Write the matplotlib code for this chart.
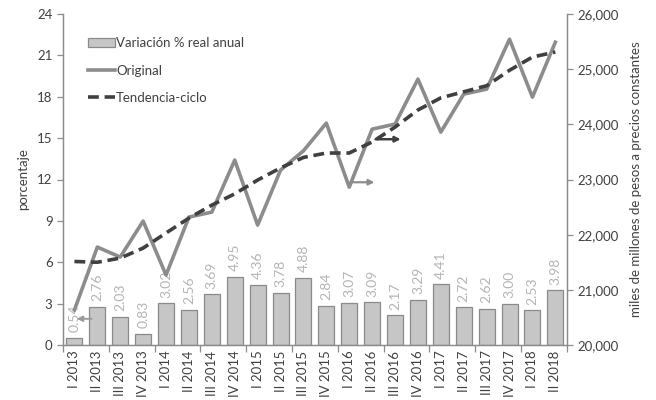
import matplotlib
matplotlib.use("Agg")
import matplotlib.pyplot as plt
import numpy as np

plt.rcParams['font.family'] = ['Lato', 'DejaVu Sans']

quarters = ["I 2013", "II 2013", "III 2013", "IV 2013",
            "I 2014", "II 2014", "III 2014", "IV 2014",
            "I 2015", "II 2015", "III 2015", "IV 2015",
            "I 2016", "II 2016", "III 2016", "IV 2016",
            "I 2017", "II 2017", "III 2017", "IV 2017",
            "I 2018", "II 2018"]
variacion = [0.54, 2.76, 2.03, 0.83, 3.02, 2.56, 3.69, 4.95, 4.36, 3.78, 4.88,
             2.84, 3.07, 3.09, 2.17, 3.29, 4.41, 2.72, 2.62, 3.00, 2.53, 3.98]
original = [20634, 21775, 21594, 22246, 21268, 22319, 22409, 23352, 22174, 23170,
            23520, 24022, 22862, 23913, 24004, 24819, 23859, 24548, 24638, 25543,
            24493, 25489]
tendencia = [21514, 21500, 21575, 21757, 22030, 22300, 22536, 22740, 22990, 23210,
             23400, 23480, 23480, 23680, 23950, 24260, 24480, 24590, 24700, 24980,
             25220, 25310]

x = np.arange(len(quarters))

fig = plt.figure(figsize=(6.56, 4.0), dpi=100)
ax = fig.add_axes([0.096, 0.1375, 0.768, 0.8275])
ax2 = ax.twinx()

txt = '#404040'
spine_c = '#8c8c8c'

bars = ax.bar(x, variacion, width=0.7, color='#c6c6c6', edgecolor='#8a8a8a',
              linewidth=0.9, label='Variación % real anual', zorder=2)
for xi, v in zip(x, variacion):
    ax.annotate(f"{v:.2f}", (xi, v), xytext=(0, 4), textcoords='offset points',
                rotation=90, ha='center', va='bottom', color='#b4b4b4', fontsize=10)

l1, = ax2.plot(x, original, color='#8c8c8c', lw=2.6, label='Original', zorder=3)
l2, = ax2.plot(x, tendencia, color='#404040', lw=2.6, ls=(0, (3, 1.6)),
               label='Tendencia-ciclo', zorder=4)

ax.set_xlim(-0.5, len(quarters) - 0.5)
ax.set_ylim(0, 24)
ax.set_yticks(np.arange(0, 25, 3))
ax2.set_ylim(20000, 26000)
ax2.set_yticks(np.arange(20000, 26001, 1000))
ax2.set_yticklabels([f"{v:,}" for v in range(20000, 26001, 1000)])

ax.set_xticks(x)
ax.set_xticklabels(quarters, rotation=90, fontsize=9.5, color=txt)
ax.tick_params(axis='x', length=0, pad=4)
ax.set_xticks(np.arange(-0.5, len(quarters), 2), minor=True)
ax.tick_params(axis='x', which='minor', length=5, color=spine_c, width=0.9)

ax.tick_params(axis='y', labelsize=9.5, labelcolor=txt, length=4, color=spine_c, width=0.9)
ax2.tick_params(axis='y', labelsize=9.5, labelcolor=txt, length=4, color=spine_c, width=0.9)

for a in (ax, ax2):
    a.spines['top'].set_visible(False)
    for s in ('left', 'right', 'bottom'):
        a.spines[s].set_color(spine_c)
        a.spines[s].set_linewidth(0.9)

ax.set_ylabel('porcentaje', fontsize=9.5, color=txt, labelpad=6)
ax2.set_ylabel('miles de millones de pesos a precios constantes', fontsize=9.5,
               color=txt, labelpad=8)

# axis-indicating arrows
ax.annotate('', xy=(0.1, 1.9), xytext=(0.75, 1.9),
            arrowprops=dict(arrowstyle='-|>', color='#9a9a9a', lw=1.4,
                            mutation_scale=8, shrinkA=0, shrinkB=0), zorder=5)
ax2.annotate('', xy=(13.1, 22950), xytext=(12.1, 22950),
             arrowprops=dict(arrowstyle='-|>', color='#8c8c8c', lw=1.6,
                             mutation_scale=8, shrinkA=0, shrinkB=0), zorder=5)
ax2.annotate('', xy=(14.25, 23730), xytext=(13.15, 23730),
             arrowprops=dict(arrowstyle='-|>', color='#404040', lw=1.8,
                             mutation_scale=8, shrinkA=0, shrinkB=0), zorder=5)

leg = ax2.legend([bars, l1, l2], ['Variación % real anual', 'Original', 'Tendencia-ciclo'],
                 loc='upper left', bbox_to_anchor=(0.04, 0.945), frameon=False,
                 fontsize=9.5, handlelength=2.0, handletextpad=0.1,
                 labelspacing=1.15, borderaxespad=0)
for t in leg.get_texts():
    t.set_color(txt)

fig.savefig('out.png', dpi=100)
